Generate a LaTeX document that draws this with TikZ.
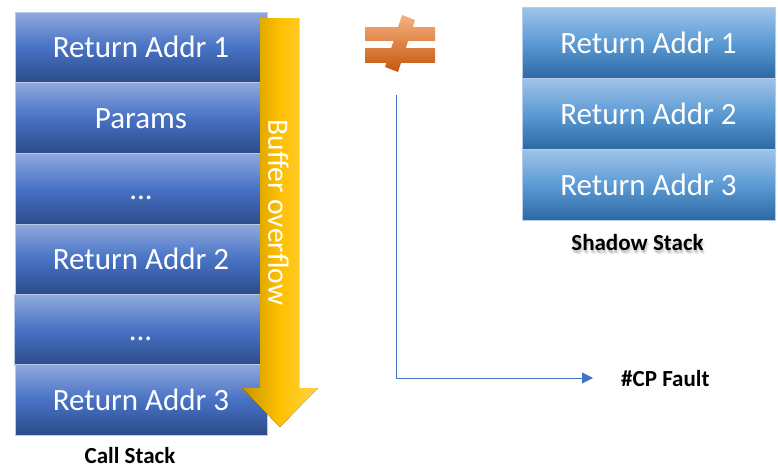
\documentclass[tikz,border=0pt]{standalone}
\usepackage{fontspec}
\setmainfont{Carlito}
\usetikzlibrary{arrows.meta}

% colours
\definecolor{csTop}{HTML}{8FAADD}
\definecolor{csMid}{HTML}{4872C5}
\definecolor{csBot}{HTML}{2C4C8A}
\definecolor{ssTop}{HTML}{A0C4E8}
\definecolor{ssMid}{HTML}{5C9BD5}
\definecolor{ssBot}{HTML}{2D68A3}
\definecolor{rowEdge}{HTML}{B8CBEA}
\definecolor{arrL}{HTML}{C99500}
\definecolor{arrM}{HTML}{FFC000}
\definecolor{arrR}{HTML}{FFD44A}
\definecolor{neqTop}{HTML}{F6B27E}
\definecolor{neqBot}{HTML}{C4560F}
\definecolor{linkBlue}{HTML}{4472C4}

\newcommand\cellfont{\fontsize{31}{36}\selectfont}
\newcommand\capfont{\fontsize{23}{27}\selectfont\bfseries}

\begin{document}
\begin{tikzpicture}[x=1pt, y=-1pt,
  cell/.style={rectangle, inner sep=0pt, draw=rowEdge, line width=0.5pt,
    text=white, font=\cellfont, text height=21pt, text depth=0pt},
  csrow/.style={cell, minimum width=252pt, minimum height=71pt,
    top color=csTop, bottom color=csBot, middle color=csMid},
  ssrow/.style={cell, minimum width=253pt, minimum height=71pt,
    top color=ssTop, bottom color=ssBot, middle color=ssMid},
  caption/.style={font=\capfont, text=black, inner sep=0pt},
  neqfill/.style={top color=neqTop, bottom color=neqBot},
  link/.style={draw=linkBlue, line width=0.9pt,
    -{Triangle[length=11pt, width=11pt]}}]

\useasboundingbox (0,0) rectangle (778,466);

% call stack
\node[csrow, minimum height=70pt] (cs1) at (141,47)    {Return Addr 1};
\node[csrow] (cs2) at (141,117.5)  {Params};
\node[csrow] (cs3) at (141,188.5)  {...};
\node[csrow, minimum height=70pt] (cs4) at (141,259)   {Return Addr 2};
\node[csrow, minimum width=253pt] (cs5) at (140.5,329.5) {...};
\node[csrow] (cs6) at (141,399.5)  {Return Addr 3};
\node[caption, anchor=base] (cslabel) at (130,463) {Call Stack};

% buffer overflow arrow
\fill[left color=arrL, right color=arrR, middle color=arrM]
  (260,18) -- (299,18) -- (299,388) -- (318,388) -- (280,427)
  -- (242,388) -- (260,388) -- cycle;
\node[rotate=-90, text=white, inner sep=0pt,
  font=\fontsize{29.5}{33}\selectfont] (bof) at (278.5,212.5) {Buffer overflow};

% not-equal sign: one gradient shared by the two bars and the slash
\foreach \piece in {
    {(365,27) -- (435,27) -- (435,40) -- (365,40) -- cycle},
    {(365,48) -- (435,48) -- (435,62) -- (365,62) -- cycle},
    {(402,15) -- (415,20) -- (398,72) -- (385,67) -- cycle}} {
  \begin{scope}
    \clip \piece;
    \shade[neqfill] (360,15) rectangle (440,72);
  \end{scope}
}
\coordinate (neq) at (400,43);

% shadow stack
\node[ssrow] (ss1) at (648.5,42.5)  {Return Addr 1};
\node[ssrow] (ss2) at (648.5,113.5) {Return Addr 2};
\node[ssrow] (ss3) at (648.5,184.5) {Return Addr 3};
\foreach \dx/\dy in {1/2, 0/3, 2/4}
  \node[caption, anchor=base, text=black, opacity=0.09]
    at (637.5+\dx,250+\dy) {Shadow Stack};
\node[caption, anchor=base] (sslabel) at (637.5,250) {Shadow Stack};

% control-protection fault path
\coordinate (tap) at (396,95);
\node[caption, anchor=base west] (fault) at (621,386) {\#CP Fault};
\draw[link] (tap) |- ([xshift=-28pt]fault.west);

\end{tikzpicture}
\end{document}
